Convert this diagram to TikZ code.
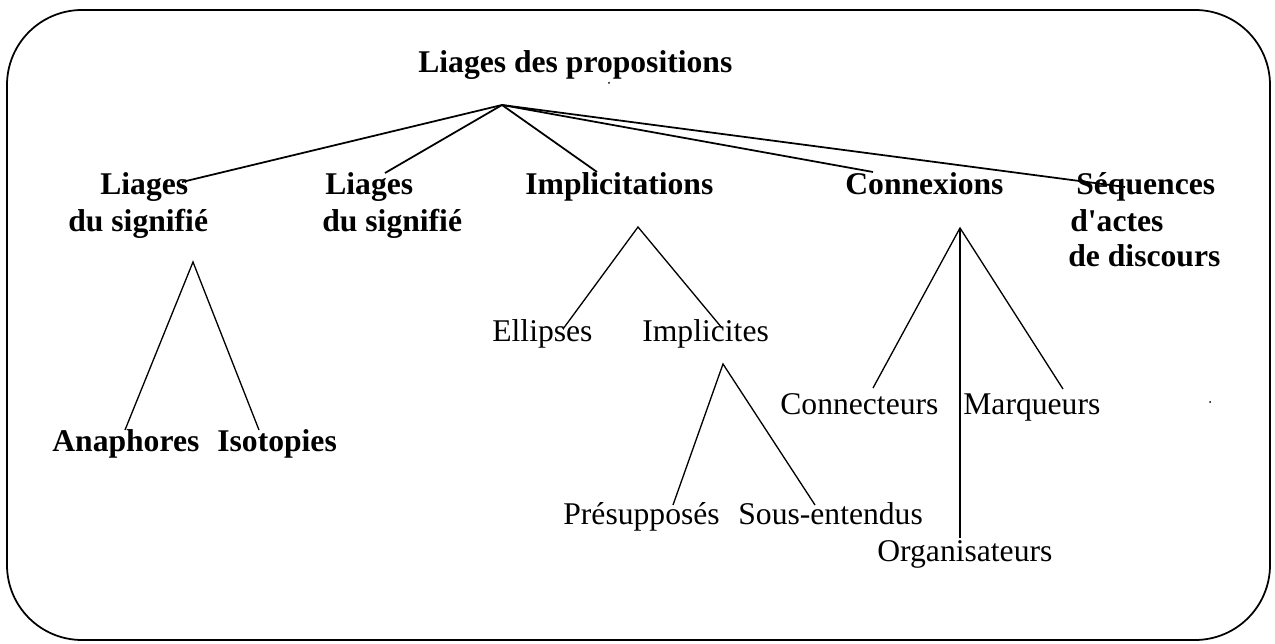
\documentclass[tikz,border=0pt]{standalone}
\usepackage{fontspec}
\setmainfont{Liberation Serif}

\tikzset{
  toptext/.style={font=\fontsize{18}{21}\selectfont\bfseries, anchor=base west, inner sep=0pt},
  leaftext/.style={font=\fontsize{18}{21}\selectfont, anchor=base west, inner sep=0pt},
  branch/.style={line width=1pt},
  twig/.style={line width=0.75pt}
}

\begin{document}
\begin{tikzpicture}[x=0.02cm, y=-0.02cm]
\useasboundingbox (0,0) rectangle (1275,644);
\draw [line width=1pt, rounded corners=1.5cm] (7,10) rectangle (1270,640);

% titles
\node [toptext] (prop) at (418,73) {Liages des propositions};
\node [toptext] (lsa) at (100,195) {Liages};
\node [toptext] (lsb) at (68,232) {du signifié};
\node [toptext] (lta) at (325,195) {Liages};
\node [toptext] (ltb) at (322,232) {du signifié};
\node [toptext] (impl) at (525,195) {Implicitations};
\node [toptext] (conn) at (845,195) {Connexions};
\node [toptext] (seqa) at (1076,195) {Séquences};
\node [toptext] (seqb) at (1070,232) {d\textquotesingle actes};
\node [toptext] (seqc) at (1068,267) {de discours};
\node [toptext] (ana) at (52,452) {Anaphores};
\node [toptext] (iso) at (217,452) {Isotopies};

\node [leaftext] (ell) at (492,342) {Ellipses};
\node [leaftext] (implc) at (642,342) {Implicites};
\node [leaftext] (pres) at (563,525) {Présupposés};
\node [leaftext] (sous) at (738,525) {Sous-entendus};
\node [leaftext] (cnt) at (780,415) {Connecteurs};
\node [leaftext] (marq) at (963,415) {Marqueurs};
\node [leaftext] (org) at (877,562) {Organisateurs};

% tree points
\coordinate (root) at (502,105);
\coordinate (r1) at (182,182);
\coordinate (r2) at (385,173);
\coordinate (r3) at (597,172);
\coordinate (r4) at (873,172);
\coordinate (r5) at (1125,187);

\coordinate (L) at (193,262);
\coordinate (L1) at (125,430);
\coordinate (L2) at (259,430);

\coordinate (I) at (638,227);
\coordinate (I1) at (563,329);
\coordinate (I2) at (722,328);

\coordinate (P) at (723,364);
\coordinate (P1) at (673,505);
\coordinate (P2) at (815,505);

\coordinate (C) at (960,228);
\coordinate (C1) at (873,388);
\coordinate (C2) at (1063,389);
\coordinate (C3) at (960,538);

\foreach \n in {r1,r2,r3,r4,r5} \draw [branch] (root) -- (\n);
\draw [twig] (L1) -- (L) -- (L2);
\draw [twig] (I1) -- (I) -- (I2);
\draw [twig] (P1) -- (P) -- (P2);
\draw [twig] (C1) -- (C) -- (C2);
\draw [twig] (C) -- (C3);

% stray specks
\fill (609,83) circle (1);
\fill (1210,402) circle (1);
\end{tikzpicture}
\end{document}
